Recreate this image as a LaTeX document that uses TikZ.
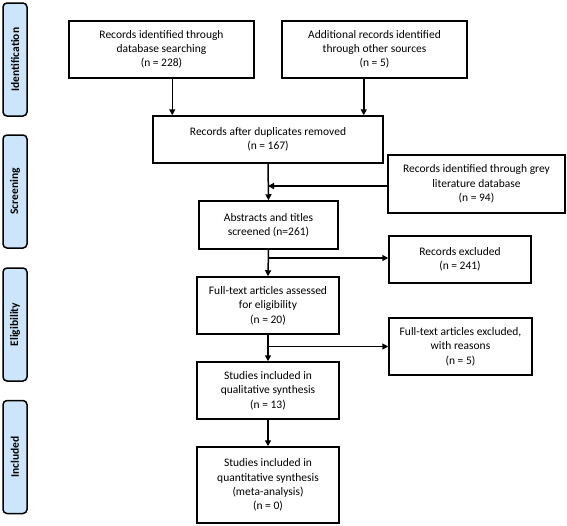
\documentclass[tikz,border=0pt]{standalone}
\usepackage{fontspec}
\setmainfont{Carlito}
\usetikzlibrary{arrows.meta}
\definecolor{phasefill}{RGB}{204,229,250}
\begin{document}
\begin{tikzpicture}[x=1pt,y=-1pt,
  font=\fontsize{11.5}{14.3}\selectfont,
  box/.style={draw,line width=1.5pt,align=center,inner sep=2pt},
  phase/.style={draw,line width=1.5pt,fill=phasefill,rounded corners=4pt,rotate=90,
    minimum height=24pt,font=\fontsize{11.5}{13}\selectfont\bfseries},
  arr/.style={line width=1.5pt,-{Triangle[length=6pt,width=6pt]}}]
\useasboundingbox (0,0) rectangle (567,525);
\node[phase,minimum width=113pt] (ident) at (15,59.5) {Identification};
\node[phase,minimum width=113pt] (screen) at (15,191.5) {Screening};
\node[phase,minimum width=113pt] (elig) at (15,324.5) {Eligibility};
\node[phase,minimum width=113pt] (incl) at (15,457) {Included};

\node[box,minimum width=185pt,minimum height=57pt] (dbsearch) at (161.5,49.5) {Records identified through\\database searching\\(n = 228)};
\node[box,minimum width=185pt,minimum height=57pt] (other) at (374.5,49.5) {Additional records identified\\through other sources\\(n = 5)};
\node[box,minimum width=230pt,minimum height=47pt] (dedup) at (268,139.5) {Records after duplicates removed\\(n = 167)};
\node[box,minimum width=177pt,minimum height=58pt] (grey) at (476.5,184) {Records identified through grey\\literature database\\(n = 94)};
\node[box,minimum width=139pt,minimum height=48pt] (screened) at (268.5,225) {Abstracts and titles\\screened (n=261)};
\node[box,minimum width=142pt,minimum height=47pt] (excl) at (460,259.5) {Records excluded\\(n = 241)};
\node[box,minimum width=142pt,minimum height=57pt] (fulltext) at (268,305.5) {Full-text articles assessed\\for eligibility\\(n = 20)};
\node[box,minimum width=143pt,minimum height=57pt] (ftexcl) at (460.5,346.5) {Full-text articles excluded,\\with reasons\\(n = 5)};
\node[box,minimum width=142pt,minimum height=57pt] (qual) at (268,390.5) {Studies included in\\qualitative synthesis\\(n = 13)};
\node[box,minimum width=142pt,minimum height=76pt] (quant) at (268,485) {Studies included in\\quantitative synthesis\\(meta-analysis)\\(n = 0)};

\coordinate (inA) at ([xshift=20pt]dedup.north west);
\coordinate (inB) at ([xshift=-20pt]dedup.north east);
\draw[arr] (dbsearch.south -| inA) -- (inA);
\draw[arr] (other.south -| inB) -- (inB);
\draw[arr] (dedup.south) -- (screened.north);
\draw[arr] ([yshift=-2pt]grey.west) -- ([yshift=-2pt]grey.west -| dedup.south);
\draw[arr] (screened.south) -- (fulltext.north);
\draw[arr] ([yshift=1.5pt]excl.west -| screened.south) -- ([yshift=1.5pt]excl.west);
\draw[arr] (fulltext.south) -- (qual.north);
\draw[arr] (ftexcl.west -| fulltext.south) -- (ftexcl.west);
\draw[arr] (qual.south) -- (quant.north);
\end{tikzpicture}
\end{document}
